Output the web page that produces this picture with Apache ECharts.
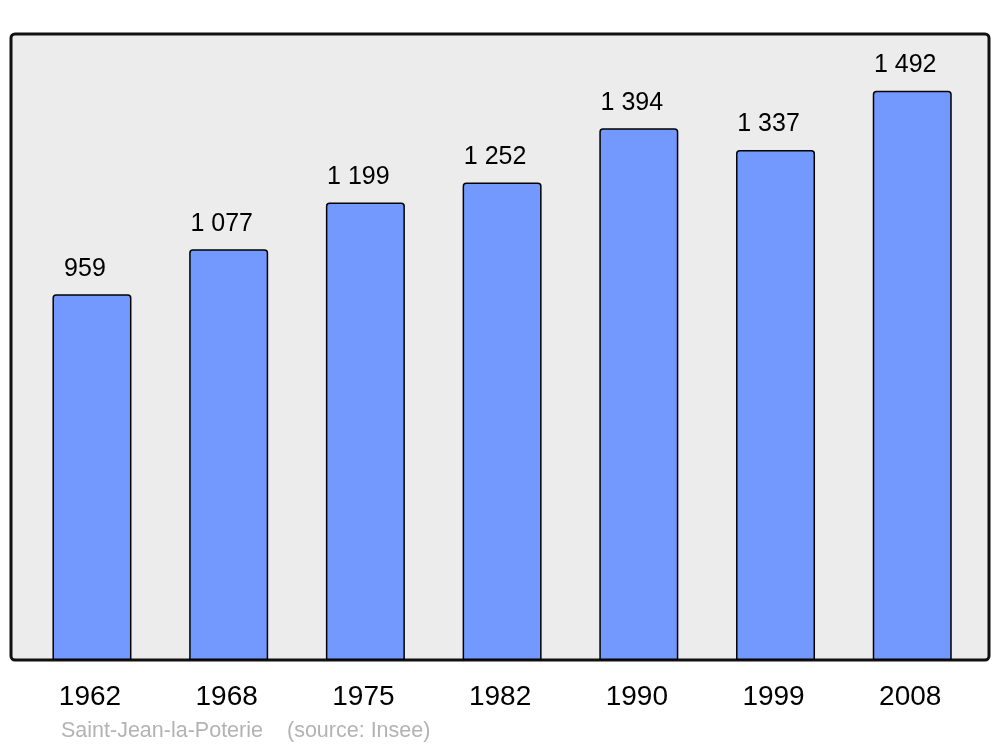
<!DOCTYPE html>
<html>
<head>
<meta charset="utf-8">
<script src="https://cdn.jsdelivr.net/npm/echarts@6/dist/echarts.min.js"></script>
<style>html,body{margin:0;padding:0;background:#fff}#c{width:1000px;height:747px}</style>
</head>
<body>
<div id="c"></div>
<script>
var years = ['1962', '1968', '1975', '1982', '1990', '1999', '2008'];
var population = [959, 1077, 1199, 1252, 1394, 1337, 1492];
var valueLabels = ['959', '1 077', '1 199', '1 252', '1 394', '1 337', '1 492'];
var footerName = 'Saint-Jean-la-Poterie';
var footerSource = '(source: Insee)';

var FONT = 'Liberation Sans, Arial, sans-serif';
var chart = echarts.init(document.getElementById('c'), null, {renderer: 'canvas'});
chart.setOption({
  backgroundColor: '#ffffff',
  animation: false,
  textStyle: {fontFamily: FONT},
  graphic: [
    {type: 'rect', z: -10, shape: {x: 11, y: 34, width: 978, height: 626, r: 4},
     style: {fill: '#ececec', stroke: '#111111', lineWidth: 3}},
    {type: 'text', left: 61, top: 720, z: 10,
     style: {text: footerName, fill: '#b3b3b3', fontSize: 21.5, fontFamily: FONT}},
    {type: 'text', left: 287, top: 720, z: 10,
     style: {text: footerSource, fill: '#b3b3b3', fontSize: 21.5, fontFamily: FONT}}
  ],
  grid: {left: 23.6, width: 957, top: 34, bottom: 87, containLabel: false},
  xAxis: {
    type: 'category', data: years,
    axisLine: {show: false}, axisTick: {show: false},
    axisLabel: {color: '#000', fontSize: 28, margin: 23, padding: [0, 4, 0, 0]}
  },
  yAxis: {type: 'value', min: 0, max: 1641, show: false, splitLine: {show: false}},
  series: [{
    type: 'bar', data: population, barWidth: 79,
    itemStyle: {color: '#7399ff', borderColor: '#000', borderWidth: 1.5, borderRadius: [3, 3, 0, 0]},
    label: {show: true, position: 'top', distance: 13, offset: [-7, 0], color: '#000', fontSize: 25,
      formatter: function (p) { return valueLabels[p.dataIndex]; }}
  }]
});
</script>
</body>
</html>
